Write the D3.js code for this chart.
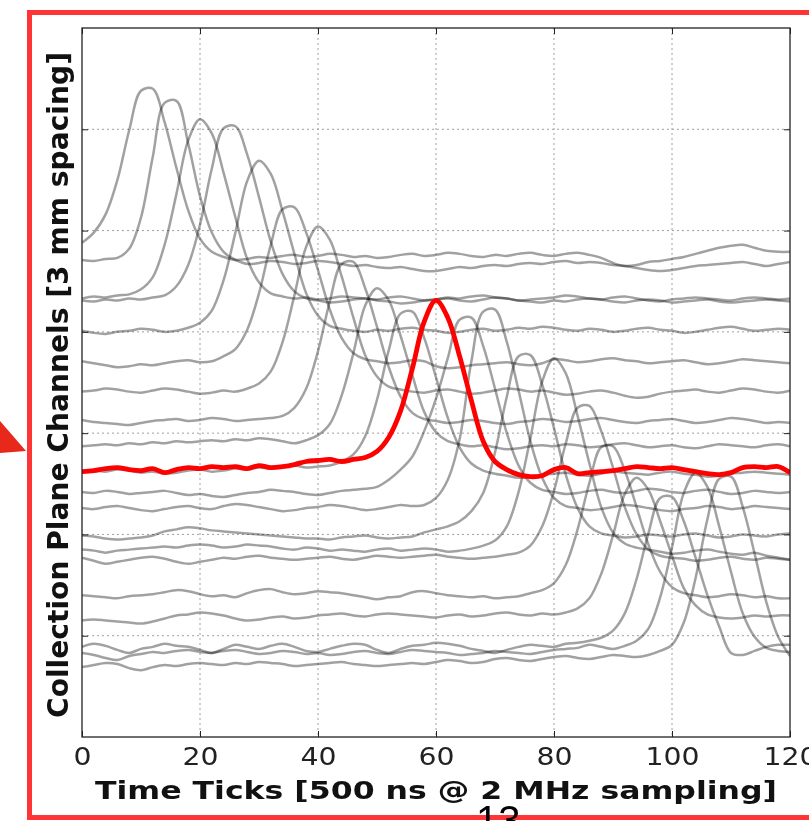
<!DOCTYPE html>
<html>
<head>
<meta charset="utf-8">
<script src="https://cdn.jsdelivr.net/npm/d3@7"></script>
<style>
  html, body { margin: 0; padding: 0; background: #fff; }
  svg { display: block; filter: blur(0.45px); }
</style>
</head>
<body>
<div id="chart"></div>
<script>
"use strict";

// waveform samples are read every 2 time ticks, 0..120
const sampleTimes = d3.range(0, 121, 2);
const xTicks = [0, 20, 40, 60, 80, 100, 120];
const yGrid = [100, 200, 300, 400, 500, 600];

// baseline of each channel (y units), top channel first
const channelOffsets = [472, 468, 433, 431, 401, 371, 341, 312, 287, 260, 262,
                        242, 226, 199, 185, 177, 140, 115, 89, 83, 69];
const highlightIndex = 10;

// waveform relative to its channel baseline
const ch01 = [16, 26, 44, 78, 127, 166, 168, 135, 90, 48,
  20, 7, 2, -1, 0, 2, 1, 3, 4, 2,
  3, 5, 4, 2, 3, 1, 2, 4, 5, 3,
  4, 6, 5, 3, 2, 4, 3, 5, 6, 4,
  3, 5, 6, 4, 1, -4, -7, -6, -3, -2,
  0, 2, 5, 8, 11, 13, 14, 11, 8, 7,
  7];
const ch02 = [3, 2, 4, 5, 14, 45, 105, 158, 160, 118,
  66, 30, 11, 3, -1, 0, 2, 1, -1, 0,
  2, 1, -1, -3, -2, -4, -5, -4, -6, -8,
  -8, -6, -4, -5, -3, -2, -3, -1, 0, -1,
  1, 2, 0, 1, 0, -2, -3, -5, -7, -8,
  -7, -5, -3, -2, -1, 0, 1, -1, -3, -1,
  1];
const ch03 = [0, 2, 1, 3, 4, 9, 21, 53, 103, 156,
  177, 163, 124, 80, 39, 16, 5, 2, 0, 1,
  -1, 0, 2, 1, 0, -1, 1, 2, 0, -2,
  -1, 1, 0, 2, 3, 1, 0, -2, -1, 0,
  1, 3, 2, 0, -1, 1, 2, 0, -2, -3,
  -1, 0, 1, 0, -1, -2, 0, 1, 0, -1,
  0];
const ch04 = [0, -1, 1, 0, 2, 1, 3, 5, 14, 35,
  75, 130, 170, 172, 144, 102, 58, 26, 9, 2,
  0, -2, -1, 1, 2, 0, -1, -3, -2, 0,
  1, 2, 0, -1, 1, 3, 2, 0, -1, -2,
  0, -1, 1, 2, 1, -1, -2, 0, 1, 0,
  -2, -1, 0, 1, -1, -2, -1, 0, 1, 0,
  -1];
const ch05 = [0, -2, -3, -1, 0, 2, 1, -1, 0, 3,
  8, 20, 50, 97, 148, 168, 155, 118, 76, 37,
  15, 5, 2, 0, -1, 1, 0, 2, 3, 1,
  0, -2, -1, 1, 2, 0, 1, 3, 2, 4,
  3, 1, 0, 2, 1, -1, 0, 2, 3, 1,
  0, -2, -1, 1, 3, 4, 2, 0, 1, 2,
  1];
const ch06 = [0, -2, -4, -6, -5, -3, -4, -2, 0, 1,
  -1, 0, 5, 12, 31, 67, 115, 150, 152, 127,
  90, 51, 23, 8, 2, 0, -2, -1, 1, 0,
  -5, -7, -6, -4, -3, -2, -1, -3, -4, -2,
  2, 1, -1, 0, 2, 3, 1, 0, -2, -1,
  0, 1, -1, -3, -2, 0, 2, 1, 0, -1,
  -2];
const ch07 = [0, 1, 3, 2, 0, -1, 1, 3, 2, 0,
  -2, -1, 1, 0, 3, 8, 20, 49, 95, 143,
  163, 150, 114, 73, 36, 15, 5, 2, 0, -1,
  1, 2, 0, -2, -1, 1, 3, 2, 0, 1,
  -1, -3, -2, 0, 1, -1, -4, -6, -5, -2,
  0, 1, 2, 0, -1, 1, 3, 2, 0, -1,
  1];
const ch08 = [1, -1, -2, -3, -4, -2, 0, 1, 2, 0,
  1, 3, 2, 0, 1, 2, 3, 5, 13, 32,
  69, 118, 155, 157, 131, 93, 53, 24, 8, 2,
  0, -2, -1, 1, 0, -2, -3, -1, 0, 2,
  1, -1, 0, 2, 3, 1, -1, -2, 0, 1,
  2, 0, -2, -1, 1, 3, 2, 0, -2, -1,
  -2];
const ch09 = [0, 1, 2, 1, 3, 2, 4, 3, 5, 4,
  5, 6, 5, 7, 6, 8, 7, 5, 3, 6,
  11, 22, 50, 92, 139, 156, 144, 109, 70, 34,
  14, 5, 2, 0, 1, -1, -3, -2, 0, 1,
  0, 2, 1, -1, 0, 2, 3, 1, -1, 0,
  1, -1, -2, 0, 2, 1, 0, -1, 1, 2,
  0];
const ch10 = [1, 3, 2, 4, 3, 1, 2, 0, 1, 3,
  4, 2, 3, 5, 4, 6, 5, 7, 8, 6,
  7, 8, 12, 19, 37, 73, 122, 158, 160, 134,
  95, 55, 26, 10, 3, 0, -2, -4, -3, -1,
  0, 1, -1, -2, 0, 2, 1, 0, -1, 1,
  2, 0, -1, -3, -2, 0, 1, 2, 1, 0,
  -1];
const ch11 = [0, 1, 3, 4, 2, 1, 3, -1, 2, 4,
  3, 5, 4, 5, 3, 6, 4, 5, 7, 10,
  11, 12, 10, 12, 14, 20, 34, 60, 102, 148,
  169, 152, 114, 70, 30, 10, 2, -3, -5, -4,
  2, 4, -2, -1, 0, 1, 3, 5, 4, 3,
  4, 2, 0, -2, -3, -1, 4, 5, 4, 5,
  -1];
const ch12 = [0, -1, 1, 0, -2, -1, 0, 1, -1, -3,
  -2, -4, -5, -3, -1, 0, 2, 1, 0, -2,
  -3, -1, 1, 2, 3, 5, 12, 22, 35, 60,
  92, 132, 170, 172, 144, 102, 58, 26, 9, 2,
  0, -2, -1, 1, 2, 0, -1, 1, 3, 2,
  0, -1, 1, 2, 0, -2, -1, 1, 0, -1,
  0];
const ch13 = [0, -1, 1, 2, 0, -2, -3, -1, 1, 2,
  0, -1, 2, 4, 3, 1, -1, -3, -2, 0,
  1, 3, 2, 0, -2, -1, 1, 3, 2, 3,
  10, 28, 68, 145, 194, 196, 164, 116, 66, 30,
  10, 2, 0, -2, -1, 1, 3, 2, 0, -2,
  -3, -1, 0, 2, 1, -1, 0, 2, 1, 0,
  -1];
const ch14 = [0, -1, -3, -4, -3, -2, 0, 4, 6, 8,
  7, 5, 4, 3, 2, 1, 0, -1, -2, -3,
  -3, -4, -2, -1, 0, -2, -3, -2, -1, 3,
  6, 9, 14, 24, 42, 82, 137, 177, 178, 149,
  106, 60, 27, 9, 2, 0, -2, -1, 1, 0,
  -1, 1, 2, 0, -2, -1, 1, 0, -1, 1,
  2];
const ch15 = [0, -1, -3, -1, 0, 1, 2, 3, 2, 4,
  5, 4, 2, 3, 5, 4, 3, 1, 0, 2,
  1, -1, 0, -1, -2, 0, 1, -1, 0, 1,
  0, -2, -1, 1, 4, 9, 23, 57, 110, 166,
  189, 174, 132, 85, 42, 17, 6, 2, 0, -2,
  -4, -3, -1, 0, -2, -4, -5, -3, -6, -8,
  -10];
const ch16 = [0, -3, -6, -4, -2, 0, 1, -1, -4, -6,
  -4, -2, 0, -1, 1, 2, 0, -1, -2, -1,
  0, 1, -1, -2, 0, 2, 1, 0, 1, 2,
  3, 1, 0, -1, 0, 1, 3, 5, 12, 31,
  66, 113, 148, 150, 125, 89, 50, 23, 8, 2,
  0, -1, -3, -2, 0, 1, -1, -2, 0, -1,
  -2];
const ch17 = [0, -1, -2, -3, -1, 0, 1, 3, 5, 4,
  1, -1, 0, -2, 2, 5, 6, 3, 1, 2,
  4, 3, 2, 0, -2, -4, -2, -1, 3, 4,
  2, 0, -1, -2, -1, -3, -2, -1, 2, 5,
  12, 30, 65, 111, 146, 147, 123, 87, 50, 23,
  8, 2, 0, -2, -1, 1, 0, -2, -1, -3,
  -3];
const ch18 = [0, 1, 0, -1, -2, -3, -1, 2, 5, 6,
  8, 7, 5, 2, 0, 1, 3, 4, 2, 3,
  5, 6, 7, 5, 4, 6, 7, 6, 5, 4,
  3, 5, 6, 4, 5, 7, 8, 6, 5, 7,
  6, 8, 12, 22, 46, 84, 125, 141, 129, 98,
  64, 32, 15, 6, 3, 2, 3, 5, 4, 5,
  5];
const ch19 = [0, 3, 1, -3, -6, -2, 0, 3, 1, 0,
  -3, -6, -2, 2, 0, -2, 1, 3, 0, -4,
  -5, -2, 1, 3, 2, -3, -6, -2, 1, 2,
  4, 3, 1, -2, -4, -6, -3, 0, 2, 1,
  0, 3, 4, 6, 9, 16, 33, 67, 112, 147,
  148, 124, 88, 51, 20, -6, -8, -4, 0, 2,
  2];
const ch20 = [0, -2, -5, -7, -3, -1, 1, 0, 2, 3,
  1, 0, 2, 3, 1, -1, 0, 2, 1, -1,
  0, -2, -1, 1, 2, 0, -1, 1, 3, 2,
  1, 0, -2, -1, 0, 2, 1, 0, -1, 1,
  3, 4, 5, 8, 6, 4, 7, 12, 24, 55,
  104, 158, 178, 164, 125, 80, 39, 16, 5, 2,
  1];
const ch21 = [0, 2, 4, 3, -1, -3, 0, 2, 1, 3,
  4, 3, 2, 4, 3, 5, 4, 3, 1, 2,
  3, 4, 5, 3, 2, 1, 2, 3, 4, 3,
  5, 7, 6, 4, 5, 8, 9, 7, 6, 8,
  10, 11, 9, 8, 10, 12, 11, 10, 12, 16,
  22, 44, 88, 146, 186, 188, 158, 112, 64, 30,
  11];

const waveforms = [ch01, ch02, ch03, ch04, ch05, ch06, ch07, ch08, ch09, ch10, ch11,
                   ch12, ch13, ch14, ch15, ch16, ch17, ch18, ch19, ch20, ch21];

const W = 809, H = 821;
const plot = { left: 82, right: 790, top: 28, bottom: 737 };

const svg = d3.select("#chart").append("svg")
  .attr("width", W)
  .attr("height", H)
  .attr("viewBox", `0 0 ${W} ${H}`);

const x = d3.scaleLinear().domain([0, 120]).range([plot.left, plot.right]);
const y = d3.scaleLinear().domain([0, 700]).range([plot.bottom, plot.top]);

// slide frame + arrow
svg.append("rect")
  .attr("x", 29.5).attr("y", 12.5)
  .attr("width", 800).attr("height", 805)
  .attr("fill", "none")
  .attr("stroke", "#ff3434")
  .attr("stroke-width", 5);

svg.append("path")
  .attr("d", "M0,421 L26,451 L0,453 Z")
  .attr("fill", "#e8281a");

// grid
const grid = svg.append("g")
  .attr("stroke", "#a0a0a0")
  .attr("stroke-width", 1)
  .attr("stroke-dasharray", "2,3");

grid.selectAll("line.vx")
  .data(xTicks.slice(1, -1))
  .join("line")
  .attr("x1", (d) => x(d)).attr("x2", (d) => x(d))
  .attr("y1", plot.top).attr("y2", plot.bottom);

grid.selectAll("line.hy")
  .data(yGrid)
  .join("line")
  .attr("x1", plot.left).attr("x2", plot.right)
  .attr("y1", (d) => y(d)).attr("y2", (d) => y(d));

// traces
svg.append("clipPath").attr("id", "plot-clip")
  .append("rect")
  .attr("x", plot.left).attr("y", plot.top)
  .attr("width", plot.right - plot.left)
  .attr("height", plot.bottom - plot.top);

const line = d3.line()
  .x((d, i) => x(sampleTimes[i]))
  .y((d) => y(d))
  .curve(d3.curveCatmullRom.alpha(0.5));

const traces = svg.append("g").attr("clip-path", "url(#plot-clip)");

waveforms.forEach((wave, ci) => {
  if (ci === highlightIndex) return;
  traces.append("path")
    .attr("d", line(wave.map((v) => channelOffsets[ci] + v)))
    .attr("fill", "none")
    .attr("stroke", "#000")
    .attr("stroke-opacity", 0.37)
    .attr("stroke-width", 2.5)
    .attr("stroke-linejoin", "round");
});

traces.append("path")
  .attr("d", line(waveforms[highlightIndex].map((v) => channelOffsets[highlightIndex] + v)))
  .attr("fill", "none")
  .attr("stroke", "#ff0000")
  .attr("stroke-width", 4.8)
  .attr("stroke-linejoin", "round");

// axes (inward ticks on all sides)
const tickStyle = (g) => {
  g.select(".domain").remove();
  g.selectAll(".tick line").attr("stroke", "#222").attr("stroke-width", 1);
};

svg.append("g")
  .attr("transform", `translate(0,${plot.bottom})`)
  .call(d3.axisBottom(x).tickValues(xTicks).tickSize(-6).tickPadding(11))
  .call(tickStyle)
  .call((g) => g.selectAll(".tick text")
    .attr("font-family", "DejaVu Sans, sans-serif")
    .attr("font-size", 24)
    .attr("fill", "#222")
    .attr("transform", "scale(1.18,1)"));

svg.append("g")
  .attr("transform", `translate(0,${plot.top})`)
  .call(d3.axisTop(x).tickValues(xTicks).tickSize(-6).tickFormat(""))
  .call(tickStyle);

svg.append("g")
  .attr("transform", `translate(${plot.left},0)`)
  .call(d3.axisLeft(y).tickValues(yGrid).tickSize(-6).tickFormat(""))
  .call(tickStyle);

svg.append("g")
  .attr("transform", `translate(${plot.right},0)`)
  .call(d3.axisRight(y).tickValues(yGrid).tickSize(-6).tickFormat(""))
  .call(tickStyle);

svg.append("rect")
  .attr("x", plot.left).attr("y", plot.top)
  .attr("width", plot.right - plot.left)
  .attr("height", plot.bottom - plot.top)
  .attr("fill", "none")
  .attr("stroke", "#222")
  .attr("stroke-width", 1.3);

// axis titles
svg.append("text")
  .attr("x", 95).attr("y", 799)
  .attr("font-family", "DejaVu Sans, sans-serif")
  .attr("font-weight", "bold")
  .attr("font-size", 25)
  .attr("fill", "#111")
  .attr("textLength", 682)
  .attr("lengthAdjust", "spacingAndGlyphs")
  .text("Time Ticks [500 ns @ 2 MHz sampling]");

svg.append("text")
  .attr("transform", "translate(68,718) rotate(-90)")
  .attr("font-family", "DejaVu Sans, sans-serif")
  .attr("font-weight", "bold")
  .attr("font-size", 29)
  .attr("fill", "#111")
  .attr("textLength", 666)
  .attr("lengthAdjust", "spacingAndGlyphs")
  .text("Collection Plane Channels [3 mm spacing]");

// slide page number, cut by the bottom edge
svg.append("text")
  .attr("x", 476).attr("y", 834)
  .attr("font-family", "Liberation Sans, Arial, sans-serif")
  .attr("font-size", 40)
  .attr("fill", "#000")
  .text("13");
</script>
</body>
</html>
